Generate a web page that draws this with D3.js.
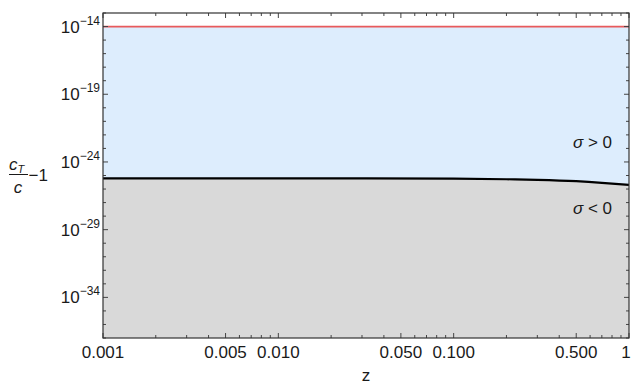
<!DOCTYPE html>
<html lang="en">
<head>
<meta charset="UTF-8">
<title>cT/c - 1</title>
<script src="https://d3js.org/d3.v7.min.js"></script>
<style>
  body { margin: 0; background: #fff; }
  text { font-family: "Liberation Sans", Arial, sans-serif; fill: #1a1a1a; }
</style>
</head>
<body>
<svg width="632" height="385"></svg>
<script>
// data
var zValues = [0.001, 0.003, 0.01, 0.03, 0.1, 0.2, 0.3, 0.5, 0.7, 1.0];
var boundary = [6.2e-26, 6.2e-26, 6.15e-26, 6.05e-26, 5.8e-26, 5.3e-26, 4.8e-26, 3.8e-26, 2.9e-26, 2.0e-26];
var upperBound = 1e-14;
var xTickValues = [0.001, 0.005, 0.01, 0.05, 0.1, 0.5, 1];
var xTickLabels = ["0.001", "0.005", "0.010", "0.050", "0.100", "0.500", "1"];
var yTickExp = [-14, -19, -24, -29, -34];

var pLeft = 103, pRight = 629, pTop = 13, pBottom = 338;
var svg = d3.select("svg");

var x = d3.scaleLog().domain([0.001, 1]).range([pLeft, pRight]);
var y = d3.scaleLog().domain([1e-37, 1e-13]).range([pBottom, pTop]);

var pts = zValues.map((z, i) => [z, boundary[i]]);
var crv = d3.curveMonotoneX;

// grey region under the curve
svg.append("path")
  .datum(pts)
  .attr("fill", "#d9d9d9")
  .attr("d", d3.area().x(d => x(d[0])).y0(pBottom).y1(d => y(d[1])).curve(crv));

// blue region between curve and upper bound
svg.append("path")
  .datum(pts)
  .attr("fill", "#ddedfd")
  .attr("d", d3.area().x(d => x(d[0])).y0(y(upperBound)).y1(d => y(d[1])).curve(crv));

svg.append("line")
  .attr("x1", pLeft).attr("x2", pRight)
  .attr("y1", y(upperBound)).attr("y2", y(upperBound))
  .attr("stroke", "#e85a5c").attr("stroke-width", 1.8);

svg.append("path")
  .datum(pts)
  .attr("fill", "none").attr("stroke", "#000").attr("stroke-width", 2.2)
  .attr("d", d3.line().x(d => x(d[0])).y(d => y(d[1])).curve(crv));

// ticks
var xMinor = [];
[0.001, 0.01, 0.1].forEach(b => d3.range(2, 10).forEach(m => {
  var v = b * m;
  if (xTickValues.indexOf(+v.toPrecision(3)) < 0) xMinor.push(v);
}));
var yMinor = d3.range(-37, -12).filter(e => yTickExp.indexOf(e) < 0).map(e => Math.pow(10, e));
var yMajor = yTickExp.map(e => Math.pow(10, e));

var tickColor = "#444";
function xTicks(vals, len) {
  vals.forEach(v => {
    svg.append("line").attr("x1", x(v)).attr("x2", x(v)).attr("y1", pBottom).attr("y2", pBottom - len)
      .attr("stroke", tickColor).attr("stroke-width", 1);
    svg.append("line").attr("x1", x(v)).attr("x2", x(v)).attr("y1", pTop).attr("y2", pTop + len)
      .attr("stroke", tickColor).attr("stroke-width", 1);
  });
}
function yTicks(vals, len) {
  vals.forEach(v => {
    svg.append("line").attr("x1", pLeft).attr("x2", pLeft + len).attr("y1", y(v)).attr("y2", y(v))
      .attr("stroke", tickColor).attr("stroke-width", 1);
    svg.append("line").attr("x1", pRight).attr("x2", pRight - len).attr("y1", y(v)).attr("y2", y(v))
      .attr("stroke", tickColor).attr("stroke-width", 1);
  });
}
xTicks(xTickValues, 5); xTicks(xMinor, 3);
yTicks(yMajor, 5); yTicks(yMinor, 3);

// frame
svg.append("rect").attr("x", pLeft).attr("y", pTop).attr("width", pRight - pLeft).attr("height", pBottom - pTop)
  .attr("fill", "none").attr("stroke", "#333").attr("stroke-width", 1.2);

// tick labels (last one nudged in so it stays on the canvas)
xTickValues.forEach((v, i) => {
  svg.append("text").attr("x", Math.min(x(v), 626)).attr("y", pBottom + 20).attr("text-anchor", "middle")
    .attr("font-size", 17).text(xTickLabels[i]);
});
yTickExp.forEach(e => {
  var t = svg.append("text").attr("x", pLeft - 3).attr("y", y(Math.pow(10, e)) + 6)
    .attr("text-anchor", "end").attr("font-size", 17);
  t.append("tspan").text("10");
  t.append("tspan").attr("dy", -8).attr("font-size", 12).text("\u2212" + (-e));
});

// axis titles
svg.append("text").attr("x", 366).attr("y", 381).attr("text-anchor", "middle").attr("font-size", 17).text("z");
var yl = svg.append("g");
var ct = yl.append("text").attr("x", 9).attr("y", 170).attr("font-size", 17);
ct.append("tspan").attr("font-style", "italic").text("c");
ct.append("tspan").attr("font-style", "italic").attr("font-size", 11).attr("dy", 3).text("T");
yl.append("line").attr("x1", 9).attr("x2", 28).attr("y1", 174.5).attr("y2", 174.5).attr("stroke", "#1a1a1a").attr("stroke-width", 1);
yl.append("text").attr("x", 18).attr("y", 193).attr("text-anchor", "middle").attr("font-size", 17)
  .attr("font-style", "italic").text("c");
yl.append("text").attr("x", 28.5).attr("y", 181).attr("font-size", 17).text("\u22121");

// region labels
svg.append("text").attr("x", 612).attr("y", 148).attr("text-anchor", "end").attr("font-size", 17)
  .html('<tspan font-style="italic">\u03c3</tspan> &gt; 0');
svg.append("text").attr("x", 612).attr("y", 214).attr("text-anchor", "end").attr("font-size", 17)
  .html('<tspan font-style="italic">\u03c3</tspan> &lt; 0');
</script>
</body>
</html>
